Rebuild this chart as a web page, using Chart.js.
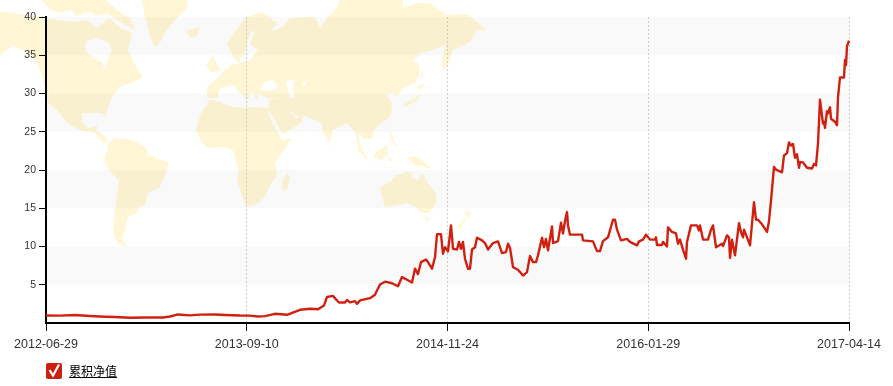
<!DOCTYPE html>
<html>
<head>
<meta charset="utf-8">
<style>
html, body { margin: 0; padding: 0; background: #fff; overflow: hidden; }
#wrap { position: relative; width: 893px; height: 386px; }
#map, #chart { position: absolute; left: 0; top: 0; }
#legend { position: absolute; left: 46px; top: 362px; height: 17px; display: flex; align-items: center; }
#legend svg { display: block; }
#legend span { margin-left: 7px; font: 12px "Noto Sans CJK SC", sans-serif; color: #000; text-decoration: underline; }
</style>
<script src="https://cdn.jsdelivr.net/npm/chart.js@4"></script>
</head>
<body>
<div id="wrap">
  <!-- world map behind the plot, only decoration -->
  <svg id="map" width="893" height="386">
    <g fill="#fff6d6">
      <polygon points="0,11 20,14 38,17 46,18 58,20 75,22 87,20 97,28 103,23 110,18 120,28 132,33 128,50 135,65 143,78 120,87 112,97 105,117 102,113 82,113 82,122 88,128 95,127 98,122 96,130 102,134 106,137 108,143 102,142 95,133 83,131 70,125 63,118 57,110 48,103 43,80 37,62 27,53 13,45 0,55" />
      <polygon points="42,0 48,8 58,13 72,10 76,16 90,12 95,16 108,14 125,25 135,30 130,18 120,12 105,0" />
      <polygon points="142,0 145,17 147,23 150,38 155,47 160,43 165,32 177,18 187,8 188,0" />
      <polygon points="186,30 200,28 197,35 190,38" />
      <polygon points="213,55 217,65 222,70 212,72 206,67 207,65" />
      <polygon points="245,18 262,12 277,23 270,32 283,27 290,18 315,17 320,28 327,18 337,7 340,0 403,0 403,8 417,3 430,3 447,15 467,14 487,30 477,30 470,42 453,50 448,67 442,70 442,57 445,45 433,50 420,53 412,62 418,63 420,73 415,83 403,88 397,97 392,93 387,95 392,103 392,107 390,117 375,128 372,138 365,140 358,133 360,145 369,162 358,148 355,132 347,123 333,130 330,143 323,132 322,123 303,115 302,122 282,135 267,113 269,105 268,100 280,98 267,98 257,93 258,103 253,92 247,100 233,85 220,88 217,98 207,98 207,87 217,78 230,65 240,63 233,57 227,43" />
      <polygon points="210,100 213,100 233,107 245,108 247,107 268,108 267,113 282,140 292,138 275,163 277,175 269,187 265,197 255,205 246,207 237,180 239,170 237,165 233,150 222,147 208,148 202,143 196,130 200,115" />
      <polygon points="288,173 290,178 287,190 283,191 282,180" />
      <polygon points="333,142 335,145 333,146" />
      <polygon points="357,147 370,162 367,160 356,148" />
      <polygon points="375,153 387,145 388,155 380,160 374,157" />
      <polygon points="390,155 392,162 388,160" />
      <polygon points="407,157 417,157 432,168 423,167 415,165" />
      <polygon points="390,130 392,135 395,143 397,145 395,146 390,137" />
      <polygon points="382,166 397,168 382,167" />
      <polygon points="422,65 423,78 421,78" />
      <polygon points="418,85 424,84 422,89 418,89" />
      <polygon points="420,92 418,100 403,108 405,103 417,97" />
      <polygon points="380,187 390,182 397,175 407,172 413,173 412,178 418,180 422,172 428,183 436,193 436,203 430,213 420,213 417,207 407,203 397,205 385,207 382,197" />
      <polygon points="424,217 429,217 427,222" />
      <polygon points="466,210 471,213 468,218 465,214" />
      <polygon points="457,227 465,218 466,220 460,229" />
      <polygon points="108,143 115,138 132,140 147,148 148,155 168,162 168,168 160,187 148,193 145,205 138,207 138,212 128,217 125,230 122,238 127,247 117,243 113,230 115,210 119,180 110,172 104,160 107,152" />
    </g>
    <g fill="#fff">
      <polygon points="85,45 88,40 97,38 108,42 112,50 107,62 107,69 104,68 102,62 93,58 86,52" />
      <polygon points="252,31 255,31 250,44 258,50 250,60 240,63 240,60 247,48 247,43" />
      <polygon points="260,90 265,82 273,80 278,88 270,91" />
      <polygon points="286,82 295,79 293,88 295,98 290,98 288,88" />
      <polygon points="302,83 307,80 305,86" />
      <polygon points="268,112 270,112 283,135 281,137" />
      <polygon points="288,110 300,118 296,118" />
    </g>
  </svg>
  <canvas id="chart" width="893" height="386"></canvas>
  <div id="legend">
    <svg width="16" height="16"><rect width="16" height="16" rx="2" fill="#cd1f0f"/><polyline points="3.5,7 7,12.5 13,1.5" fill="none" stroke="#fff" stroke-width="2.2"/></svg>
    <span>累积净值</span>
  </div>
</div>
<script>
const dateLabels = ['2012-06-29', '2013-09-10', '2014-11-24', '2016-01-29', '2017-04-14'];
const bandRanges = [[5, 10], [15, 20], [25, 30], [35, 40]];
const lastDay = 803;

// day = position on the time axis
const tradingDay = [
    0, 14, 29, 44, 59, 69, 84, 99, 117, 124, 132, 144, 154, 169, 179, 194, 204, 212, 219, 229,
    241, 254, 264, 272, 278, 281, 287, 291, 293, 299, 301, 304, 309, 311, 314, 324, 329, 331, 334, 339,
    346, 352, 356, 361, 366, 369, 372, 375, 380, 382, 386, 389, 391, 395, 397, 399, 402, 405, 407, 411,
    413, 415, 417, 419, 422, 424, 426, 429, 431, 436, 439, 442, 447, 452, 456, 460, 462, 464, 467, 472,
    477, 481, 484, 487, 490, 492, 496, 498, 500, 502, 506, 507, 512, 515, 517, 519, 521, 522, 524, 536,
    537, 547, 551, 554, 557, 562, 567, 569, 571, 575, 581, 584, 591, 593, 597, 600, 604, 609, 610, 611,
    616, 617, 621, 622, 626, 630, 632, 634, 637, 640, 641, 645, 651, 653, 654, 657, 662, 665, 667, 670,
    676, 677, 681, 683, 684, 686, 689, 693, 695, 697, 698, 701, 704, 708, 710, 712, 716, 721, 723, 725,
    728, 730, 736, 738, 741, 743, 745, 747, 749, 751, 753, 754, 757, 761, 766, 768, 770, 772, 774, 777,
    778, 779, 781, 782, 784, 785, 789, 791, 792, 794, 798, 799, 800, 801, 802, 803
];
const netValue = [
    0.98, 0.97, 1.05, 0.92, 0.82, 0.78, 0.68, 0.72, 0.72, 0.85, 1.12, 1.0, 1.1, 1.12, 1.05, 0.98, 0.97, 0.85, 0.9, 1.2,
    1.07, 1.73, 1.86, 1.8, 2.3, 3.4, 3.55, 2.95, 2.68, 2.68, 3.0, 2.7, 2.85, 2.5, 2.95, 3.25, 3.7, 4.25, 5.04, 5.4,
    5.2, 4.8, 6.0, 5.65, 5.3, 7.1, 6.4, 7.95, 8.3, 7.95, 7.1, 8.6, 11.6, 11.6, 9.05, 9.9, 9.36, 12.76, 9.7, 9.6,
    10.6, 9.7, 10.6, 8.4, 7.1, 7.1, 9.6, 9.9, 11.15, 10.8, 10.45, 9.6, 10.45, 10.67, 9.14, 9.27, 10.37, 9.84, 7.3, 6.96,
    6.2, 6.65, 8.75, 7.96, 7.96, 8.84, 11.15, 9.9, 11.0, 9.5, 12.63, 10.45, 10.7, 13.1, 11.7, 13.3, 14.5, 12.76, 11.55, 11.55,
    10.8, 10.67, 9.4, 9.4, 10.7, 11.2, 13.5, 13.5, 12.2, 10.8, 11.0, 10.6, 10.15, 10.67, 10.9, 11.55, 10.9, 10.9, 11.2, 10.2,
    10.2, 10.6, 10.0, 12.5, 11.9, 11.7, 10.37, 10.9, 9.6, 8.4, 10.6, 12.76, 12.76, 12.1, 12.76, 10.9, 10.9, 12.2, 12.76, 9.9,
    10.37, 10.05, 11.45, 11.2, 8.5, 10.9, 8.84, 13.06, 11.9, 11.2, 12.2, 11.2, 10.15, 15.8, 13.5, 13.5, 12.9, 11.9, 13.3, 16.0,
    20.4, 20.05, 19.7, 21.9, 22.2, 23.6, 23.2, 23.4, 21.6, 22.05, 20.3, 21.05, 21.0, 20.3, 20.2, 20.8, 20.6, 23.45, 29.2, 26.07,
    26.3, 25.5, 27.7, 27.4, 28.2, 26.7, 26.3, 25.85, 29.5, 32.1, 32.1, 34.4, 33.7, 36.2, 36.5, 36.9
];

const bandsPlugin = {
    id: 'bands',
    beforeDatasetsDraw(chart) {
        const { ctx, chartArea, scales } = chart;
        ctx.save();
        ctx.fillStyle = 'rgba(0,0,0,0.024)';
        bandRanges.forEach(([low, high]) => {
            const top = scales.y.getPixelForValue(high);
            ctx.fillRect(chartArea.left, top, chartArea.width, scales.y.getPixelForValue(low) - top);
        });
        ctx.restore();
    }
};

new Chart(document.getElementById('chart'), {
    type: 'line',
    data: {
        datasets: [{
            label: '累积净值',
            data: tradingDay.map((day, i) => ({ x: day, y: netValue[i] })),
            borderColor: '#cf2010',
            borderWidth: 2.4,
            borderJoinStyle: 'round',
            pointRadius: 0,
            tension: 0,
            clip: false
        }]
    },
    options: {
        responsive: false,
        animation: false,
        layout: { padding: { top: 17, right: 44 } },
        plugins: { legend: { display: false }, tooltip: { enabled: false } },
        scales: {
            x: {
                type: 'linear',
                min: 0,
                max: lastDay,
                afterBuildTicks: scale => {
                    scale.ticks = dateLabels.map((d, i) => ({ value: lastDay * i / (dateLabels.length - 1) }));
                },
                afterFit: scale => { scale.height = 63; },
                grid: {
                    color: ctx => ctx.index === 0 ? 'transparent' : '#cfcfcf',
                    tickColor: '#000',
                    tickLength: 8,
                    tickBorderDash: []
                },
                border: { color: '#000', width: 2, dash: [2, 2] },
                ticks: {
                    autoSkip: false,
                    maxRotation: 0,
                    color: '#333',
                    padding: 6,
                    font: { family: '"Liberation Sans"', size: 12.5 },
                    callback: (value, i) => dateLabels[i]
                }
            },
            y: {
                min: 0,
                max: 40,
                afterFit: scale => { scale.width = 46; },
                grid: {
                    drawOnChartArea: false,
                    tickColor: ctx => ctx.tick && ctx.tick.value === 0 ? 'transparent' : '#000',
                    tickLength: 7
                },
                border: { color: '#000', width: 2 },
                ticks: {
                    stepSize: 5,
                    color: '#333',
                    padding: 3,
                    font: { family: '"Liberation Sans"', size: 10.5 },
                    callback: value => value === 0 ? '' : value
                }
            }
        }
    },
    plugins: [bandsPlugin]
});
</script>
</body>
</html>
